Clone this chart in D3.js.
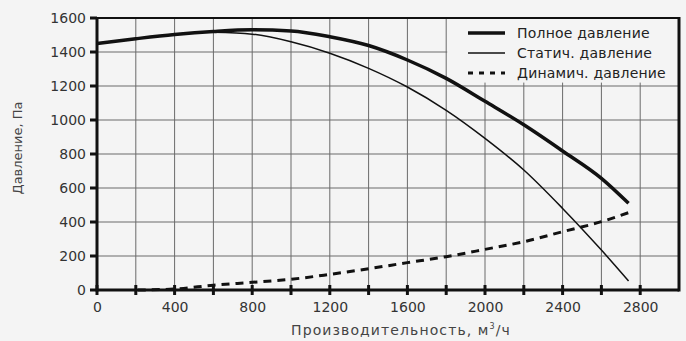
<!DOCTYPE html>
<html><head><meta charset="utf-8">
<script src="https://cdn.jsdelivr.net/npm/d3@7"></script>
<style>
html,body{margin:0;padding:0;background:#f4f4f4;}
svg{display:block;font-family:"DejaVu Sans",sans-serif;}
</style></head>
<body><svg id="c" width="686" height="341"></svg>
<script>
// Data (flow m3/h, pressure Pa)
const flowTotal = [0, 200, 400, 600, 800, 1000, 1200, 1400, 1600, 1800, 2000, 2200, 2400, 2600, 2740];
const totalP    = [1450, 1478, 1503, 1521, 1531, 1524, 1490, 1438, 1353, 1245, 1110, 972, 818, 657, 510];
const flowStatic = [600, 800, 1000, 1200, 1400, 1600, 1800, 2000, 2200, 2400, 2600, 2740];
const staticP    = [1516, 1505, 1460, 1393, 1304, 1194, 1057, 892, 706, 480, 235, 53];
const flowDyn = [210, 400, 600, 800, 1000, 1200, 1400, 1600, 1800, 2000, 2200, 2400, 2600, 2740];
const dynP    = [0, 6, 28, 45, 63, 92, 125, 161, 196, 239, 284, 343, 402, 455];
const xTicks = [0, 400, 800, 1200, 1600, 2000, 2400, 2800];
const yTicks = [0, 200, 400, 600, 800, 1000, 1200, 1400, 1600];
const legendLabels = ["Полное давление", "Статич. давление", "Динамич. давление"];

const svg = d3.select("#c");
const x = d3.scaleLinear().domain([0, 3000]).range([97, 679]);
const y = d3.scaleLinear().domain([0, 1600]).range([290, 18]);

// grid
const g = svg.append("g");
g.selectAll("line.v").data(d3.range(200, 3000, 200)).join("line")
  .attr("x1", d => x(d)).attr("x2", d => x(d)).attr("y1", y(1600)).attr("y2", y(0))
  .attr("stroke", "#6a6a6a").attr("stroke-width", 1);
g.selectAll("line.h").data(d3.range(200, 1600, 200)).join("line")
  .attr("x1", x(0)).attr("x2", x(3000)).attr("y1", d => y(d)).attr("y2", d => y(d))
  .attr("stroke", "#6a6a6a").attr("stroke-width", 1);

// legend box (covers grid)
svg.append("rect").attr("x", x(1800) + 1).attr("y", y(1600)).attr("width", x(3000) - x(1800) - 1)
  .attr("height", y(1220) - y(1600)).attr("fill", "#f4f4f4");

// frame
svg.append("line").attr("x1", x(0)).attr("x2", x(3000)).attr("y1", y(1600)).attr("y2", y(1600))
  .attr("stroke", "#111").attr("stroke-width", 2);
svg.append("line").attr("x1", x(3000)).attr("x2", x(3000)).attr("y1", y(1600) - 1).attr("y2", y(0) + 1.5)
  .attr("stroke", "#111").attr("stroke-width", 3);

// axes
const xAxis = d3.axisBottom(x).tickValues(d3.range(0, 3000, 200)).tickSize(0)
  .tickFormat(d => xTicks.includes(d) ? d3.format("d")(d) : "");
const xa = svg.append("g").attr("transform", `translate(0,${y(0)})`).call(xAxis);
xa.select(".domain").remove();
xa.selectAll("text").attr("font-size", 14).attr("fill", "#333").attr("dy", "0").attr("y", 22)
  .attr("font-family", "DejaVu Sans, sans-serif");
svg.append("g").selectAll("line").data(d3.range(0, 3000, 200)).join("line")
  .attr("x1", d => x(d)).attr("x2", d => x(d)).attr("y1", y(0) - 5).attr("y2", y(0) + 5)
  .attr("stroke", "#111").attr("stroke-width", 3);

const yAxis = d3.axisLeft(y).tickValues(yTicks).tickSize(0).tickPadding(11).tickFormat(d3.format("d"));
const ya = svg.append("g").attr("transform", `translate(${x(0)},0)`).call(yAxis);
ya.select(".domain").remove();
ya.selectAll("text").attr("font-size", 14).attr("fill", "#333").attr("font-family", "DejaVu Sans, sans-serif");
svg.append("g").selectAll("line").data(yTicks).join("line")
  .attr("x1", x(0) - 7).attr("x2", x(0)).attr("y1", d => y(d)).attr("y2", d => y(d))
  .attr("stroke", "#111").attr("stroke-width", 3);

svg.append("line").attr("x1", x(0)).attr("x2", x(3000)).attr("y1", y(0)).attr("y2", y(0))
  .attr("stroke", "#111").attr("stroke-width", 3);
svg.append("line").attr("x1", x(0)).attr("x2", x(0)).attr("y1", y(1600) - 1).attr("y2", y(0) + 1.5)
  .attr("stroke", "#111").attr("stroke-width", 3);

// curves
const line = d3.line().x(d => x(d[0])).y(d => y(d[1])).curve(d3.curveMonotoneX);
svg.append("path").datum(d3.zip(flowDyn, dynP)).attr("d", line)
  .attr("fill", "none").attr("stroke", "#111").attr("stroke-width", 3).attr("stroke-dasharray", "8,6");
svg.append("path").datum(d3.zip(flowStatic, staticP)).attr("d", line)
  .attr("fill", "none").attr("stroke", "#111").attr("stroke-width", 1.5);
svg.append("path").datum(d3.zip(flowTotal, totalP)).attr("d", line)
  .attr("fill", "none").attr("stroke", "#111").attr("stroke-width", 3.5);

// legend
const lg = svg.append("g");
const styles = [{w: 3.5, dash: null}, {w: 1.5, dash: null}, {w: 3, dash: "5,6"}];
legendLabels.forEach((t, i) => {
  const yy = 33 + i * 20;
  lg.append("line").attr("x1", 468).attr("x2", 505).attr("y1", yy).attr("y2", yy)
    .attr("stroke", "#111").attr("stroke-width", styles[i].w)
    .attr("stroke-dasharray", styles[i].dash);
  lg.append("text").attr("x", 517).attr("y", yy).attr("dy", "0.35em")
    .attr("font-size", 14).attr("letter-spacing", 0.2).attr("fill", "#222").text(t);
});

// axis titles
const xt = svg.append("text").attr("x", 401).attr("y", 335).attr("text-anchor", "middle")
  .attr("font-size", 14).attr("letter-spacing", 1.1).attr("fill", "#444");
xt.append("tspan").text("Производительность, м");
xt.append("tspan").attr("dy", -6).attr("font-size", 8).text("3");
xt.append("tspan").attr("dy", 6).text("/ч");
svg.append("text").attr("transform", "translate(22,148) rotate(-90)").attr("text-anchor", "middle")
  .attr("font-size", 13).attr("fill", "#444").text("Давление, Па");
</script></body></html>
